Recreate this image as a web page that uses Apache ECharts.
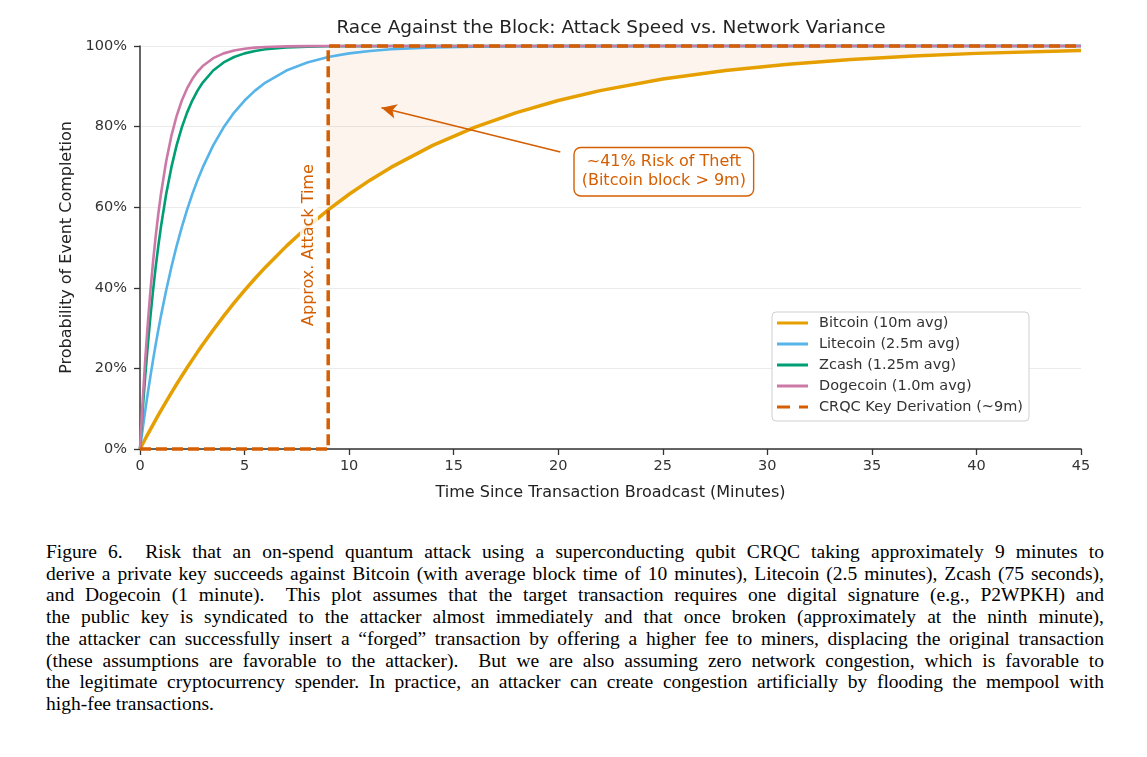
<!DOCTYPE html>
<html>
<head>
<meta charset="utf-8">
<script src="https://cdn.jsdelivr.net/npm/echarts@6/dist/echarts.min.js"></script>
<style>
  body { margin: 0; background: #fff; }
  #chart { position: absolute; left: 0; top: 0; width: 1147px; height: 530px; }
  #caption {
    position: absolute; left: 46px; top: 541px; width: 1058px;
    font-family: "Liberation Serif", serif; font-size: 19.5px; line-height: 21.7px; color: #000;
  }
  #caption div { text-align: justify; text-align-last: justify; }
  #caption div.last { text-align-last: left; }
</style>
</head>
<body>
<div id="chart"></div>
<div id="caption">
  <div>Figure 6.&nbsp; Risk that an on-spend quantum attack using a superconducting qubit CRQC taking approximately 9 minutes to</div>
  <div>derive a private key succeeds against Bitcoin (with average block time of 10 minutes), Litecoin (2.5 minutes), Zcash (75 seconds),</div>
  <div>and Dogecoin (1 minute).&nbsp; This plot assumes that the target transaction requires one digital signature (e.g., P2WPKH) and</div>
  <div>the public key is syndicated to the attacker almost immediately and that once broken (approximately at the ninth minute),</div>
  <div>the attacker can successfully insert a “forged” transaction by offering a higher fee to miners, displacing the original transaction</div>
  <div>(these assumptions are favorable to the attacker).&nbsp; But we are also assuming zero network congestion, which is favorable to</div>
  <div>the legitimate cryptocurrency spender. In practice, an attacker can create congestion artificially by flooding the mempool with</div>
  <div class="last">high-fee transactions.</div>
</div>
<script>
// 时间 (分钟)
var minutes  = [0, 0.125, 0.25, 0.375, 0.5, 0.625, 0.75, 0.875, 1, 1.25, 1.5, 1.75, 2, 2.25, 2.5, 2.75, 3, 3.5, 4, 4.5, 5, 5.5, 6, 7, 8, 9, 10, 11, 12, 14, 16, 18, 20, 22, 25, 28, 31, 34, 37, 40, 45];

// 各币种完成概率 (%)
var bitcoin  = [0, 1.24, 2.47, 3.68, 4.88, 6.06, 7.23, 8.38, 9.52, 11.75, 13.93, 16.06, 18.13, 20.15, 22.12, 24.04, 25.92, 29.53, 32.97, 36.24, 39.35, 42.31, 45.12, 50.34, 55.07, 59.34, 63.21, 66.71, 69.88, 75.34, 79.81, 83.47, 86.47, 88.92, 91.79, 93.92, 95.50, 96.66, 97.53, 98.17, 98.89];
var litecoin = [0, 4.88, 9.52, 13.93, 18.13, 22.12, 25.92, 29.53, 32.97, 39.35, 45.12, 50.34, 55.07, 59.34, 63.21, 66.71, 69.88, 75.34, 79.81, 83.47, 86.47, 88.92, 90.93, 93.92, 95.92, 97.27, 98.17, 98.77, 99.18, 99.63, 99.83, 99.93, 99.97, 99.98, 99.99, 100, 100, 100, 100, 100, 100];
var zcash    = [0, 9.52, 18.13, 25.92, 32.97, 39.35, 45.12, 50.34, 55.07, 63.21, 69.88, 75.34, 79.81, 83.47, 86.47, 88.92, 90.93, 93.92, 95.92, 97.27, 98.17, 98.77, 99.18, 99.63, 99.83, 99.93, 99.97, 99.98, 99.99, 100, 100, 100, 100, 100, 100, 100, 100, 100, 100, 100, 100];
var dogecoin = [0, 11.75, 22.12, 31.27, 39.35, 46.47, 52.76, 58.31, 63.21, 71.35, 77.69, 82.62, 86.47, 89.46, 91.79, 93.61, 95.02, 96.98, 98.17, 98.89, 99.33, 99.59, 99.75, 99.91, 99.97, 99.99, 100, 100, 100, 100, 100, 100, 100, 100, 100, 100, 100, 100, 100, 100, 100];

// CRQC 密钥推导 (~9分钟)
var crqcX = [0, 9, 9, 45];
var crqcY = [0, 0, 100, 100];
var attackTime = 9;

var names  = ['Bitcoin (10m avg)', 'Litecoin (2.5m avg)', 'Zcash (1.25m avg)', 'Dogecoin (1.0m avg)', 'CRQC Key Derivation (~9m)'];
var colors = ['#E69F00', '#56B4E9', '#009E73', '#CC79A7', '#D55E00'];

function pairs(xs, ys) {
    var out = [];
    for (var i = 0; i < xs.length; i++) out.push([xs[i], ys[i]]);
    return out;
}

// 风险区域: 比特币曲线上方, 9分钟之后
var riskArea = [];
for (var i = 0; i < minutes.length; i++) {
    if (minutes[i] >= attackTime) riskArea.push([minutes[i], bitcoin[i]]);
}

var font = 'DejaVu Sans';
var dom   = document.getElementById('chart');
var chart = echarts.init(dom);

function curve(name, data, color, width) {
    return {
        name: name, type: 'line', data: data,
        showSymbol: false, symbol: 'none', clip: false,
        lineStyle: {color: color, width: width},
        itemStyle: {color: color}
    };
}

var solidIcon  = 'path://M0,0H31V3H0Z';
var dashedIcon = 'path://M0,0H13V3H0ZM22,0H31V3H22Z';

var option = {
    animation: false,
    title: {
        text: 'Race Against the Block: Attack Speed vs. Network Variance',
        left: 606, top: 14, textAlign: 'center',
        textStyle: {fontFamily: font, fontSize: 18.5, fontWeight: 'normal', color: '#222'}
    },
    legend: {
        data: [
            {name: names[0], icon: solidIcon},
            {name: names[1], icon: solidIcon},
            {name: names[2], icon: solidIcon},
            {name: names[3], icon: solidIcon},
            {name: names[4], icon: dashedIcon}
        ],
        orient: 'vertical',
        left: 772, top: 312,
        itemWidth: 31, itemHeight: 3, itemGap: 5,
        backgroundColor: '#fff', borderColor: '#d0d0d0', borderWidth: 1, borderRadius: 4,
        padding: [3, 6, 6, 5],
        textStyle: {fontFamily: font, fontSize: 14.5, color: '#333', lineHeight: 16, padding: [0, 0, 0, 6]}
    },
    grid: {left: 140, right: 66, top: 46, bottom: 81},
    xAxis: {
        type: 'value', min: 0, max: 45, interval: 5,
        name: 'Time Since Transaction Broadcast (Minutes)',
        nameLocation: 'middle', nameGap: 36,
        nameTextStyle: {fontFamily: font, fontSize: 16, color: '#222'},
        axisLine: {lineStyle: {color: '#333', width: 1.5}},
        axisTick: {show: true, length: 6, lineStyle: {color: '#333', width: 1.3}},
        axisLabel: {fontFamily: font, fontSize: 14.5, color: '#333', margin: 10},
        splitLine: {show: false}
    },
    yAxis: {
        type: 'value', min: 0, max: 100, interval: 20,
        name: 'Probability of Event Completion',
        nameLocation: 'middle', nameGap: 63, nameRotate: 90,
        nameTextStyle: {fontFamily: font, fontSize: 16, color: '#222'},
        axisLine: {show: true, lineStyle: {color: '#333', width: 1.5}},
        axisTick: {show: true, length: 6, lineStyle: {color: '#333', width: 1.3}},
        axisLabel: {fontFamily: font, fontSize: 14.5, color: '#333', margin: 13, formatter: '{value}%'},
        splitLine: {show: true, lineStyle: {color: '#ebebeb', width: 1.2}}
    },
    series: [
        {
            name: 'risk', type: 'line', data: riskArea,
            showSymbol: false, symbol: 'none',
            lineStyle: {width: 0}, z: 1,
            areaStyle: {origin: 'end', color: 'rgba(213,94,0,0.1)'},
            silent: true,
            markLine: {
                silent: true,
                symbol: ['none', 'arrow'], symbolSize: [11, 15],
                lineStyle: {color: '#D55E00', width: 1.6, type: 'solid'},
                label: {show: false},
                data: [[{coord: [20.1, 73.7]}, {coord: [11.55, 84.7]}]]
            },
            markPoint: {
                silent: true,
                symbol: 'rect', symbolSize: 1,
                itemStyle: {color: 'rgba(0,0,0,0)'},
                data: [
                    {
                        coord: [25.05, 68.8],
                        label: {
                            show: true, position: 'inside',
                            formatter: '~41% Risk of Theft\n(Bitcoin block > 9m)',
                            fontFamily: font, fontSize: 16, lineHeight: 19, color: '#D55E00',
                            backgroundColor: '#fff', borderColor: '#D55E00', borderWidth: 1.4,
                            borderRadius: 6, padding: [5, 7, 4, 7], align: 'center'
                        }
                    },
                    {
                        coord: [8.08, 50.6],
                        label: {
                            show: true, position: 'inside', rotate: 90,
                            formatter: 'Approx. Attack Time',
                            fontFamily: font, fontSize: 16, color: '#D55E00',
                            backgroundColor: 'rgba(255,255,255,0.8)', padding: [1, 2]
                        }
                    }
                ]
            }
        },
        curve(names[0], pairs(minutes, bitcoin), colors[0], 3.5),
        curve(names[1], pairs(minutes, litecoin), colors[1], 2.6),
        curve(names[2], pairs(minutes, zcash), colors[2], 2.6),
        curve(names[3], pairs(minutes, dogecoin), colors[3], 2.6),
        {
            name: names[4], type: 'line', data: pairs(crqcX, crqcY),
            showSymbol: false, symbol: 'none', clip: false, z: 5,
            lineStyle: {color: colors[4], width: 3.5, type: [11, 5]},
            itemStyle: {color: colors[4]}
        }
    ]
};

chart.setOption(option, true);
</script>
</body>
</html>
